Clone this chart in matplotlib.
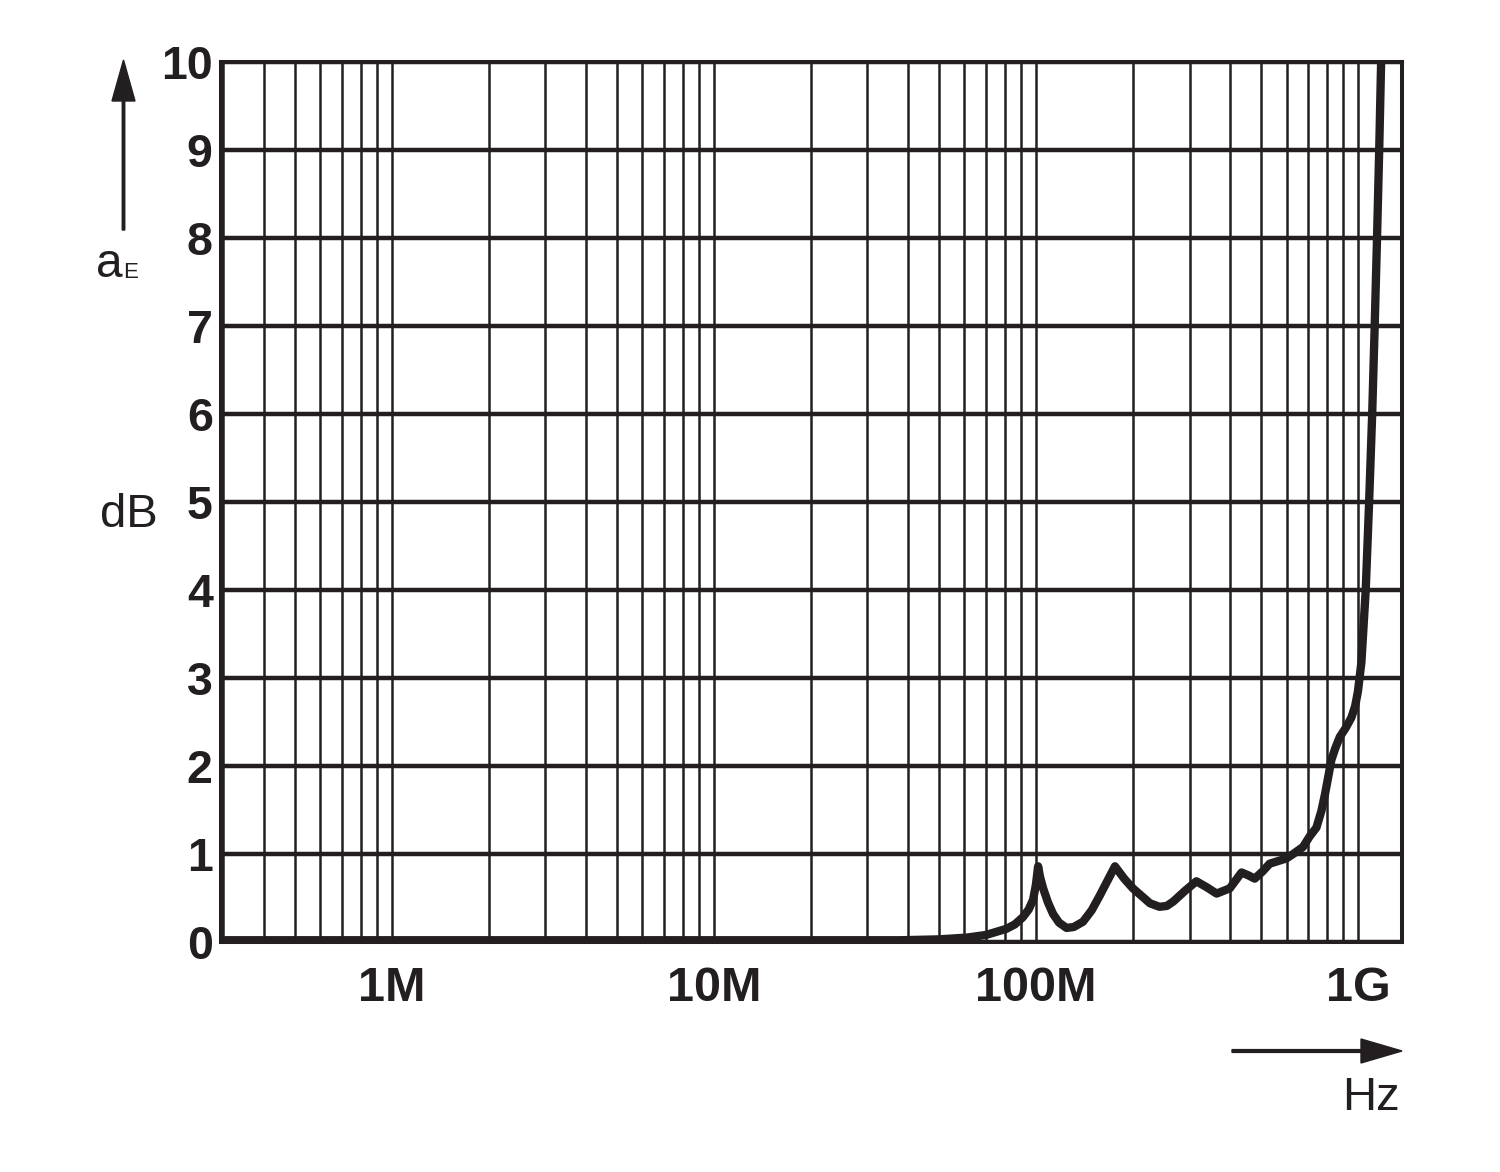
import matplotlib
matplotlib.use("Agg")
import matplotlib.pyplot as plt
from matplotlib.patches import FancyArrow
from matplotlib.transforms import IdentityTransform
from matplotlib.ticker import LogLocator, FixedLocator, FixedFormatter, NullFormatter

# ---- data ----
freq_mhz = [0.3, 1, 3, 10, 20, 30, 38, 50, 61, 70, 81, 86, 91, 95, 98, 100,
            101.6, 103, 105.3, 109, 113, 118, 124.5, 131, 140, 149, 158, 167,
            176, 188, 200, 215, 226, 242, 255, 267, 290, 315, 340, 364, 400,
            435, 455, 478, 505, 532, 600, 629, 675, 708, 743, 770, 790, 807,
            827, 850, 878, 915, 954, 980, 1000, 1025, 1057, 1083, 1107, 1127,
            1146, 1164, 1180]
atten_db = [0.02, 0.02, 0.02, 0.02, 0.02, 0.02, 0.02, 0.03, 0.05, 0.08, 0.15,
            0.20, 0.28, 0.37, 0.48, 0.65, 0.86, 0.74, 0.61, 0.45, 0.32, 0.22,
            0.16, 0.17, 0.23, 0.36, 0.53, 0.70, 0.86, 0.72, 0.61, 0.51, 0.44,
            0.40, 0.41, 0.46, 0.58, 0.69, 0.62, 0.55, 0.61, 0.79, 0.76, 0.72,
            0.80, 0.89, 0.95, 1.00, 1.08, 1.20, 1.30, 1.49, 1.68, 1.86, 2.07,
            2.20, 2.33, 2.43, 2.55, 2.68, 2.85, 3.18, 4.0, 5.0, 6.0, 7.0,
            8.0, 9.0, 10.0]
x_tick_values = [1e6, 1e7, 1e8, 1e9]
x_tick_labels = ["1M", "10M", "100M", "1G"]
y_ticks = list(range(0, 11))

INK = "#231f20"
plt.rcParams["font.family"] = ["Liberation Sans", "DejaVu Sans"]

W, H = 1500, 1172
fig = plt.figure(figsize=(W / 100, H / 100), dpi=100)
fig.patch.set_facecolor("white")

left, right, top, bottom = 221, 1402, 62, 942
ax = fig.add_axes([left / W, 1 - bottom / H, (right - left) / W, (bottom - top) / H])

freq_hz = [f * 1e6 for f in freq_mhz]
ax.plot(freq_hz, atten_db, color=INK, lw=6.0, solid_joinstyle="round",
        solid_capstyle="round", zorder=5)

ax.set_xscale("log")
ax.set_xlim(2.95e5, 1.37e9)
ax.set_ylim(0, 10)

ax.xaxis.set_major_locator(FixedLocator(x_tick_values))
ax.xaxis.set_major_formatter(FixedFormatter(x_tick_labels))
ax.xaxis.set_minor_locator(LogLocator(base=10, subs=range(2, 10), numticks=50))
ax.xaxis.set_minor_formatter(NullFormatter())
ax.set_yticks(y_ticks)
ax.set_yticklabels([str(v) for v in y_ticks])

ax.grid(which="both", axis="x", color=INK, lw=1.8)
ax.grid(which="major", axis="y", color=INK, lw=3.2)
ax.set_axisbelow(True)

for s in ax.spines.values():
    s.set_color(INK)
    s.set_linewidth(2.9)

ax.tick_params(axis="both", which="both", length=0)
ax.tick_params(axis="x", pad=17, labelsize=35, labelcolor=INK)
ax.tick_params(axis="y", pad=6, labelsize=33.5, labelcolor=INK)
for lab in ax.get_xticklabels() + ax.get_yticklabels():
    lab.set_fontweight("bold")

# ---- annotations in pixel coordinates ----
def px(x, y):
    return x, H - y

tr = IdentityTransform()

# up arrow
x0, y0 = px(123.5, 230)
fig.add_artist(FancyArrow(x0, y0, 0, 170, width=2.5, head_width=23,
                          head_length=41, length_includes_head=True,
                          color=INK, transform=tr))
# right arrow
x0, y0 = px(1232, 1051)
fig.add_artist(FancyArrow(x0, y0, 170, 0, width=2.8, head_width=24,
                          head_length=41, length_includes_head=True,
                          color=INK, transform=tr))

fig.text(96 / W, 1 - 277 / H, "a", fontsize=34.5, color=INK, ha="left", va="baseline")
fig.text(123 / W, 1 - 278 / H, "E", fontsize=16, color=INK, ha="left", va="baseline")
fig.text(158 / W, 1 - 527 / H, "dB", fontsize=34, color=INK, ha="right", va="baseline")
fig.text(1400 / W, 1 - 1110 / H, "Hz", fontsize=34, color=INK, ha="right", va="baseline")

fig.savefig("out.png", dpi=100, facecolor="white")
